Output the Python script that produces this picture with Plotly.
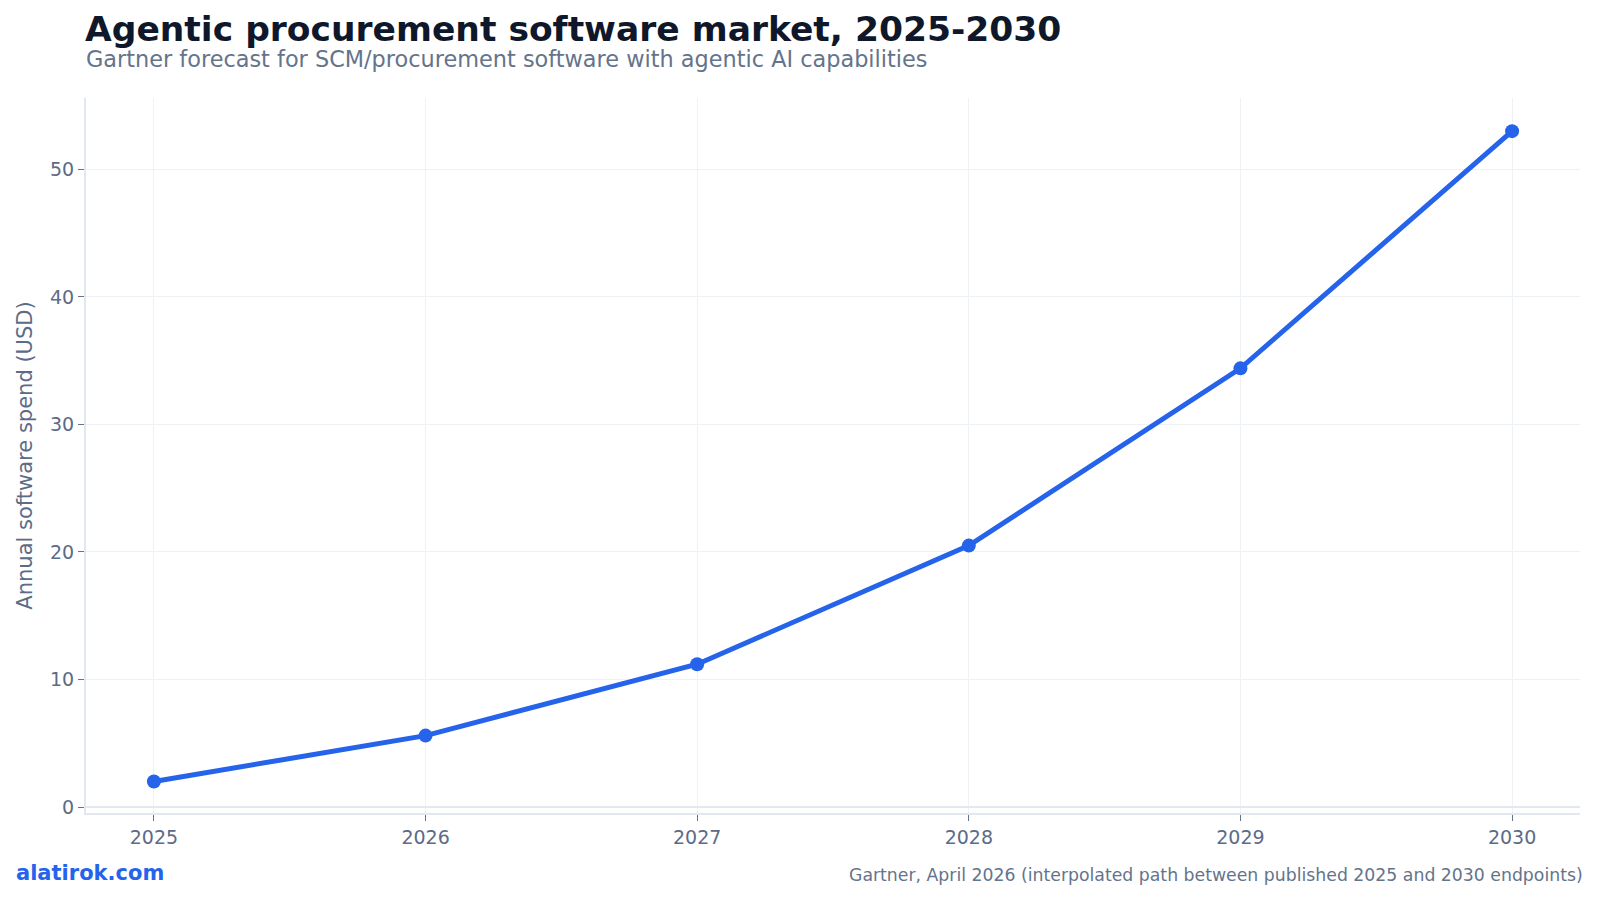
import plotly.graph_objects as go

years = [2025, 2026, 2027, 2028, 2029, 2030]
spend = [2.0, 5.6, 11.2, 20.5, 34.4, 53.0]
x_ticks = [2025, 2026, 2027, 2028, 2029, 2030]
y_ticks = [0, 10, 20, 30, 40, 50]

FONT = "DejaVu Sans"
BLUE = "#2563eb"
MUTED = "#5b6b88"
GRID = "#eef2f7"

L, R, T, B = 86, 20, 98, 86
PH = 899 - T - B


def py(ypix):
    return (899 - B - ypix) / PH


fig = go.Figure()
fig.add_trace(go.Scatter(
    x=years, y=spend, mode="lines+markers",
    line=dict(color=BLUE, width=5),
    marker=dict(color=BLUE, size=14),
    showlegend=False,
))

fig.update_layout(
    width=1600, height=899,
    paper_bgcolor="white", plot_bgcolor="white",
    margin=dict(l=L, r=R, t=T, b=B),
    font=dict(family=FONT, color=MUTED),
    title=dict(
        text="<b>Agentic procurement software market, 2025-2030</b>",
        x=85/1600, xanchor="left", xref="container",
        y=1-28.5/899, yanchor="middle", yref="container",
        font=dict(family=FONT, size=34.5, color="#0f172a"),
    ),
    annotations=[
        dict(text="Gartner forecast for SCM/procurement software with agentic AI capabilities",
             xref="paper", yref="paper", x=0, y=py(59), xanchor="left", yanchor="middle",
             xshift=-2, showarrow=False,
             font=dict(family=FONT, size=22.4, color="#64748b")),
        dict(text="<b>alatirok.com</b>", xref="paper", yref="paper",
             x=0, y=py(873), xanchor="left", yanchor="middle",
             xshift=-L + 14, showarrow=False,
             font=dict(family=FONT, size=21, color=BLUE)),
        dict(text="Gartner, April 2026 (interpolated path between published 2025 and 2030 endpoints)",
             xref="paper", yref="paper", x=1, y=py(875), xanchor="right", yanchor="middle",
             xshift=R - 15, showarrow=False,
             font=dict(family=FONT, size=17.3, color="#64748b")),
    ],
)

fig.update_xaxes(
    range=[2024.75, 2030.25], tickvals=x_ticks, ticktext=[str(v) for v in x_ticks],
    showgrid=True, gridcolor=GRID, gridwidth=1,
    showline=True, linecolor="#e2e8f0", linewidth=2,
    ticks="outside", ticklen=6, tickcolor="#64748b",
    tickfont=dict(family=FONT, size=19, color=MUTED),
    zeroline=False,
)
fig.update_yaxes(
    range=[-0.47, 55.6], tickvals=y_ticks,
    showgrid=True, gridcolor=GRID, gridwidth=1,
    showline=True, linecolor="#e2e8f0", linewidth=2,
    ticks="outside", ticklen=6, tickcolor="#64748b",
    tickfont=dict(family=FONT, size=19, color=MUTED),
    zeroline=True, zerolinecolor="#e2e8f0", zerolinewidth=2,
    title=dict(text="Annual software spend (USD)", standoff=12,
               font=dict(family=FONT, size=21, color=MUTED)),
)

fig.write_html("out.html")
